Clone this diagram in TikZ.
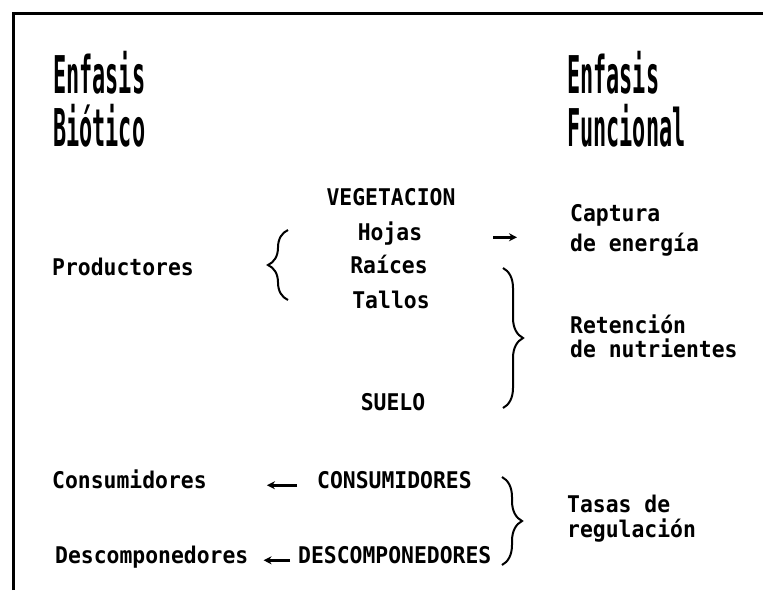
\documentclass[tikz,border=0pt]{standalone}
\usepackage{fontspec}
\setmainfont[FakeStretch=0.93]{DejaVu Sans Mono}
\newfontfamily\titlefont[FakeStretch=0.42]{DejaVu Sans Mono}
\usetikzlibrary{decorations.pathreplacing,arrows.meta}

\begin{document}
\begin{tikzpicture}[x=1pt,y=-1pt]
	\tikzset{>={Stealth[length=8pt,width=8pt]}}
	\tikzset{titulo/.style={inner sep=0, anchor=north west, align=left, font=\titlefont\bfseries\fontsize{52}{53}\selectfont}}
	\tikzset{texto/.style={inner sep=0, font=\bfseries\fontsize{23}{26}\selectfont}}
	\tikzset{flecha/.style={->, line width=2.5pt}}
	\tikzset{llave/.style={decorate, decoration={brace, amplitude=20pt}, line width=2pt}}

	\useasboundingbox (0,0) rectangle (763,590);
	\draw[line width=3pt] (13,590) -- (13,13) -- (763,13);

	% encabezados
	\node[titulo] (biotico) at (53,51) {Enfasis\\Biótico};
	\node[titulo] (funcional) at (567,51) {Enfasis\\Funcional};

	% componentes
	\node[texto, anchor=base] (veg) at (391,205) {VEGETACION};
	\node[texto, anchor=base] (hojas) at (390,240) {Hojas};
	\node[texto, anchor=base] (raices) at (389,273) {Raíces};
	\node[texto, anchor=base] (tallos) at (391,308) {Tallos};
	\node[texto, anchor=base] (suelo) at (393,410) {SUELO};
	\node[texto, anchor=base west] (prod) at (52,275) {Productores};

	\node[texto, anchor=base west] (cap1) at (570,221) {Captura};
	\node[texto, anchor=base west] (cap2) at (570,251) {de energía};
	\node[texto, anchor=base west] (ret1) at (570,333) {Retención};
	\node[texto, anchor=base west] (ret2) at (570,357) {de nutrientes};

	\node[texto, anchor=base west] (cons) at (52,488) {Consumidores};
	\node[texto, anchor=base west] (CONS) at (317,488) {CONSUMIDORES};
	\node[texto, anchor=base west] (desc) at (55,563) {Descomponedores};
	\node[texto, anchor=base west] (DESC) at (298,563) {DESCOMPONEDORES};
	\node[texto, anchor=base west] (tas1) at (567,512) {Tasas de};
	\node[texto, anchor=base west] (tas2) at (567,537) {regulación};

	% flechas
	\draw[flecha, shorten <=71pt, shorten >=53pt] (hojas.mid east) -- (hojas.mid east -| cap1.west);
	\draw[flecha, shorten <=20pt, shorten >=60pt] (CONS.mid west) -- (cons.mid east);
	\draw[flecha, shorten <=8pt, shorten >=15pt] (DESC.mid west) -- (desc.mid east);

	% llaves
	\draw[llave] (288,300) -- (288,230);
	\draw[llave] (503,268) -- (503,408);
	\draw[llave] (502,477) -- (502,565);
\end{tikzpicture}
\end{document}
